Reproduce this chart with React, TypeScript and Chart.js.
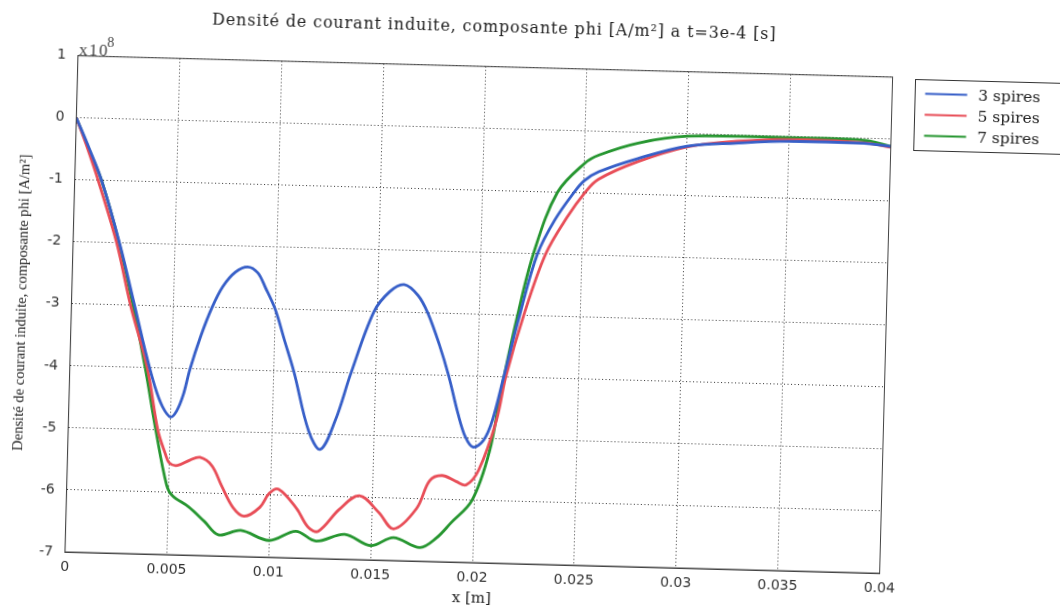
import React, { useEffect, useRef } from "react";
import { Chart, registerables } from "chart.js";

Chart.register(...registerables);

// ---- data ----
const xTicks = [0, 0.005, 0.01, 0.015, 0.02, 0.025, 0.03, 0.035, 0.04];
const xTickLabels = ["0", "0.005", "0.01", "0.015", "0.02", "0.025", "0.03", "0.035", "0.04"];
const yTicks = [-7, -6, -5, -4, -3, -2, -1, 0, 1];
const yTickLabels = ["-7", "-6", "-5", "-4", "-3", "-2", "-1", "0", "1"];

const seriesNames = ["3 spires", "5 spires", "7 spires"];

// 3 spires (x in m, y in 1e8 A/m^2)
const spires3X = [0, 0.00066, 0.00132, 0.00228, 0.0031, 0.0037, 0.0042, 0.0046, 0.005, 0.0053, 0.0056, 0.0059, 0.0064, 0.0069, 0.0074, 0.008, 0.0086, 0.0091, 0.0095, 0.01, 0.0105, 0.011, 0.0118, 0.0124, 0.0131, 0.0138, 0.01485, 0.0156, 0.0163, 0.017, 0.0175, 0.0181, 0.0186, 0.0191, 0.0195, 0.0199, 0.0204, 0.0208, 0.0213, 0.022, 0.0228, 0.0236, 0.0245, 0.025, 0.0257, 0.0276, 0.03, 0.0324, 0.035, 0.0387, 0.04];
const spires3Y = [0, -0.48, -1, -2, -3, -3.75, -4.3, -4.62, -4.78, -4.68, -4.42, -4.0, -3.45, -3.0, -2.66, -2.42, -2.33, -2.42, -2.66, -3.0, -3.5, -4.0, -4.95, -5.24, -4.76, -4.0, -3.0, -2.67, -2.55, -2.72, -3.0, -3.5, -4.0, -4.6, -4.98, -5.14, -5.02, -4.7, -4.0, -3.0, -2.0, -1.45, -1.0, -0.8, -0.65, -0.42, -0.2, -0.13, -0.08, -0.08, -0.12];

// 5 spires
const spires5X = [0, 0.0006, 0.00115, 0.00214, 0.0029, 0.0038, 0.0044, 0.0048, 0.005, 0.0054, 0.006, 0.0065, 0.0071, 0.0076, 0.0082, 0.00875, 0.0095, 0.00995, 0.0104, 0.0113, 0.0119, 0.0124, 0.0134, 0.01437, 0.01534, 0.0161, 0.0172, 0.0178, 0.0184, 0.0191, 0.0196, 0.0202, 0.021, 0.0214, 0.0222, 0.0232, 0.0242, 0.0251, 0.0257, 0.0276, 0.03, 0.0324, 0.035, 0.0387, 0.04];
const spires5Y = [0, -0.5, -1, -2, -3, -4, -5, -5.38, -5.52, -5.56, -5.47, -5.42, -5.55, -5.87, -6.22, -6.35, -6.2, -5.97, -5.9, -6.2, -6.5, -6.56, -6.2, -5.97, -6.23, -6.49, -6.15, -5.7, -5.61, -5.7, -5.75, -5.5, -4.7, -4.0, -3.0, -2.0, -1.4, -0.97, -0.77, -0.47, -0.21, -0.1, -0.05, -0.07, -0.13];

// 7 spires
const spires7X = [0, 0.00066, 0.00132, 0.00226, 0.00302, 0.0037, 0.0043, 0.0049, 0.0052, 0.006, 0.0068, 0.0075, 0.0086, 0.01, 0.0113, 0.0123, 0.0137, 0.015, 0.0161, 0.0174, 0.0182, 0.0189, 0.0199, 0.0207, 0.0212, 0.0219, 0.0226, 0.0237, 0.025, 0.0257, 0.0276, 0.03, 0.035, 0.0387, 0.04];
const spires7Y = [0, -0.5, -1, -2, -3, -4, -5, -5.88, -6.05, -6.22, -6.45, -6.66, -6.58, -6.73, -6.57, -6.72, -6.6, -6.77, -6.63, -6.78, -6.62, -6.37, -6.0, -5.2, -4.2, -3.0, -2.0, -1.0, -0.52, -0.38, -0.17, -0.04, -0.02, -0.03, -0.12];

const titleText = "Densité de courant induite, composante phi [A/m²] a t=3e-4 [s]";
const yTitleText = "Densité de courant induite, composante phi [A/m²]";
const xTitleText = "x [m]";
const exponentBase = "x10";
const exponentPower = "8";

// ---- styles ----
const seriesColors = ["rgb(55,95,200)", "rgb(232,78,88)", "rgb(38,150,48)"];
const W = 1060;
const H = 613;
const AREA = { left: 71.6, top: 67.7, right: 886.5, bottom: 564 };

const toPoints = (xs: number[], ys: number[]) => xs.map((x, i) => ({ x, y: ys[i] }));

const decorPlugin = {
  id: "decor",
  afterDraw(chart: any) {
    const ctx = chart.ctx as any;
    const a = chart.chartArea;
    ctx.save();
    // box
    ctx.strokeStyle = "#444";
    ctx.lineWidth = 1;
    ctx.setLineDash([]);
    ctx.strokeRect(a.left, a.top, a.right - a.left, a.bottom - a.top);

    ctx.fillStyle = "#222";
    // title
    ctx.font = '16px "DejaVu Serif"';
    ctx.letterSpacing = "0.85px";
    ctx.textAlign = "center";
    ctx.textBaseline = "middle";
    ctx.fillText(titleText, 487, 29);
    ctx.letterSpacing = "0px";

    // x title
    ctx.font = '15px "DejaVu Serif"';
    ctx.fillText(xTitleText, (a.left + a.right) / 2, 600);

    // y title
    ctx.save();
    ctx.translate(22, (a.top + a.bottom) / 2);
    ctx.rotate(-Math.PI / 2);
    ctx.font = '14.6px "Liberation Serif"';
    ctx.fillText(yTitleText, 0, 0);
    ctx.restore();

    // exponent
    ctx.fillStyle = "#444";
    ctx.textAlign = "left";
    ctx.textBaseline = "alphabetic";
    ctx.font = '17px "Liberation Serif"';
    ctx.letterSpacing = "1.5px";
    ctx.fillText(exponentBase, a.left + 1, a.top - 1);
    const w = ctx.measureText(exponentBase).width;
    ctx.letterSpacing = "0px";
    ctx.font = '14px "Liberation Serif"';
    ctx.fillText(exponentPower, a.left + w - 1, a.top - 10);

    // legend
    const lx = 909.5, ly = 69.5, lw = 150, lh = 71;
    ctx.fillStyle = "#fff";
    ctx.fillRect(lx, ly, lw, lh);
    ctx.strokeStyle = "#333";
    ctx.lineWidth = 1;
    ctx.strokeRect(lx, ly, lw, lh);
    ctx.font = '15.5px "DejaVu Serif"';
    ctx.textBaseline = "middle";
    const rows = [84.5, 105.5, 126.5];
    seriesNames.forEach((name, i) => {
      ctx.strokeStyle = seriesColors[i];
      ctx.lineWidth = 2;
      ctx.beginPath();
      ctx.moveTo(919.5, rows[i] - 1);
      ctx.lineTo(961.5, rows[i] - 1);
      ctx.stroke();
      ctx.fillStyle = "#222";
      ctx.fillText(name, 972.5, rows[i]);
    });
    ctx.restore();
  },
};

export default function App() {
  const canvasRef = useRef<HTMLCanvasElement | null>(null);

  useEffect(() => {
    const canvas = canvasRef.current;
    if (!canvas) return;
    const xs = [spires3X, spires5X, spires7X];
    const ys = [spires3Y, spires5Y, spires7Y];
    const chart = new Chart(canvas, {
      type: "line",
      data: {
        datasets: seriesNames.map((name, i) => ({
          label: name,
          data: toPoints(xs[i], ys[i]),
          borderColor: seriesColors[i],
          backgroundColor: seriesColors[i],
          borderWidth: 2.8,
          pointRadius: 0,
          fill: false,
          tension: 0.35,
        })),
      },
      options: {
        animation: false,
        responsive: false,
        maintainAspectRatio: false,
        layout: {
          padding: { left: 0, top: AREA.top, right: W - AREA.right, bottom: 0 },
        },
        plugins: {
          legend: { display: false },
          title: { display: false },
          tooltip: { enabled: false },
        },
        scales: {
          x: {
            type: "linear",
            min: 0,
            max: 0.04,
            afterBuildTicks: (s: any) => {
              s.ticks = xTicks.map((v) => ({ value: v }));
            },
            afterFit: (s: any) => {
              s.height = H - AREA.bottom;
            },
            ticks: {
              callback: (_v: any, i: number) => xTickLabels[i],
              font: { family: "DejaVu Sans", size: 14 },
              color: "#333",
              padding: 7,
              maxRotation: 0,
              autoSkip: false,
            },
            grid: { color: "#333", lineWidth: 1, drawTicks: false },
            border: { display: true, color: "#444", width: 1, dash: [1, 2.5] },
          },
          y: {
            type: "linear",
            min: -7,
            max: 1,
            afterBuildTicks: (s: any) => {
              s.ticks = yTicks.map((v) => ({ value: v }));
            },
            afterFit: (s: any) => {
              s.width = AREA.left;
            },
            ticks: {
              callback: (_v: any, i: number) => yTickLabels[i],
              font: { family: "DejaVu Sans", size: 14 },
              color: "#333",
              padding: 12,
              autoSkip: false,
            },
            grid: { color: "#333", lineWidth: 1, drawTicks: false },
            border: { display: true, color: "#444", width: 1, dash: [1, 2.5] },
          },
        },
      },
      plugins: [decorPlugin],
    });
    return () => chart.destroy();
  }, []);

  return (
    <div
      style={{
        position: "fixed",
        left: 0,
        top: 0,
        width: W,
        height: H,
        overflow: "hidden",
        background: "#fff",
      }}
    >
      <div
        style={{
          position: "absolute",
          left: 0,
          top: 0,
          width: W,
          height: H,
          transform: "rotate(1.5deg)",
          transformOrigin: "530px 306px",
        }}
      >
        <canvas ref={canvasRef} width={W} height={H} style={{ width: W, height: H, display: "block" }} />
      </div>
    </div>
  );
}
